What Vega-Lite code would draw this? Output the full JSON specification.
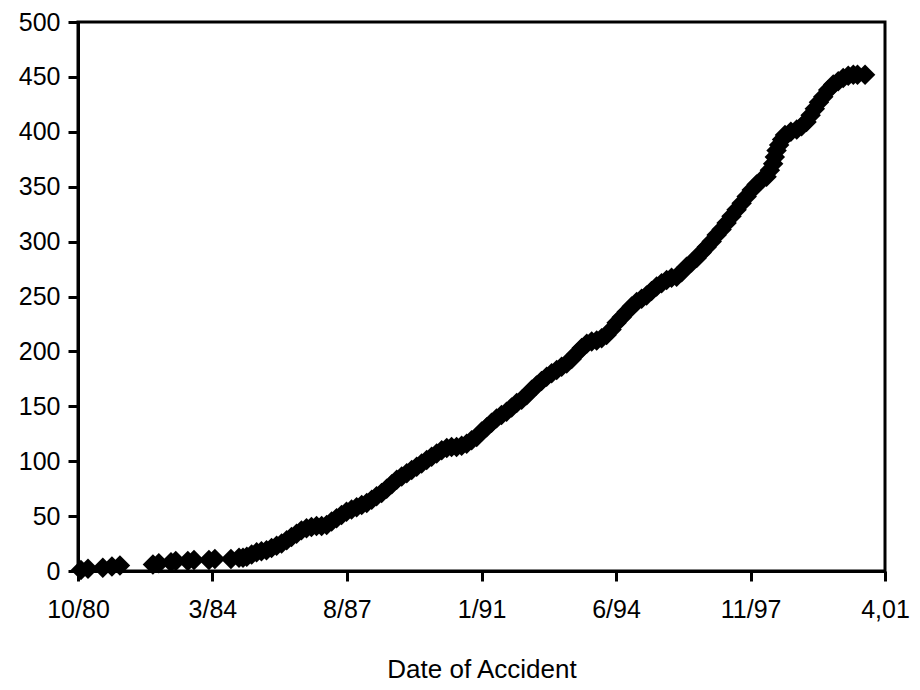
{
  "$schema": "https://vega.github.io/schema/vega-lite/v6.json",
  "width": 807,
  "height": 549,
  "autosize": {"type": "none"},
  "padding": {"left": 78, "top": 22, "right": 35, "bottom": 119},
  "background": "white",
  "config": {
    "view": {"stroke": "black", "strokeWidth": 3},
    "font": "Liberation Sans",
    "axis": {
      "grid": false,
      "domainColor": "black",
      "domainWidth": 3,
      "tickColor": "black",
      "tickWidth": 3,
      "tickSize": 10,
      "labelFont": "Liberation Sans",
      "labelFontSize": 25,
      "labelColor": "black",
      "labelOverlap": false,
      "labelFlush": false,
      "titleFont": "Liberation Sans",
      "titleFontSize": 26,
      "titleFontWeight": "normal",
      "titleColor": "black"
    }
  },
  "data": {
    "values": [
      {"date": "1980-10-28", "count": 1},
      {"date": "1981-01-02", "count": 2},
      {"date": "1981-05-19", "count": 3},
      {"date": "1981-08-12", "count": 4},
      {"date": "1981-10-25", "count": 5},
      {"date": "1982-08-27", "count": 6},
      {"date": "1982-10-21", "count": 7},
      {"date": "1983-02-11", "count": 8},
      {"date": "1983-03-27", "count": 9},
      {"date": "1983-07-17", "count": 9},
      {"date": "1983-09-12", "count": 10},
      {"date": "1984-01-29", "count": 10},
      {"date": "1984-03-24", "count": 11},
      {"date": "1984-08-20", "count": 11},
      {"date": "1984-11-03", "count": 12},
      {"date": "1984-12-10", "count": 12},
      {"date": "1985-01-14", "count": 13},
      {"date": "1985-02-28", "count": 15},
      {"date": "1985-04-15", "count": 17},
      {"date": "1985-05-30", "count": 18},
      {"date": "1985-07-16", "count": 19},
      {"date": "1985-09-01", "count": 21},
      {"date": "1985-10-18", "count": 23},
      {"date": "1985-12-03", "count": 25},
      {"date": "1986-01-19", "count": 28},
      {"date": "1986-03-05", "count": 31},
      {"date": "1986-04-21", "count": 34},
      {"date": "1986-06-05", "count": 37},
      {"date": "1986-07-22", "count": 39},
      {"date": "1986-09-06", "count": 40},
      {"date": "1986-10-23", "count": 41},
      {"date": "1986-12-09", "count": 41},
      {"date": "1987-01-25", "count": 42},
      {"date": "1987-03-12", "count": 45},
      {"date": "1987-04-27", "count": 48},
      {"date": "1987-06-12", "count": 51},
      {"date": "1987-07-28", "count": 54},
      {"date": "1987-09-13", "count": 56},
      {"date": "1987-10-30", "count": 58},
      {"date": "1987-12-16", "count": 60},
      {"date": "1988-02-01", "count": 62},
      {"date": "1988-03-18", "count": 65},
      {"date": "1988-05-02", "count": 68},
      {"date": "1988-06-18", "count": 71},
      {"date": "1988-08-04", "count": 75},
      {"date": "1988-09-20", "count": 79},
      {"date": "1988-11-05", "count": 83},
      {"date": "1988-12-21", "count": 86},
      {"date": "1989-02-06", "count": 89},
      {"date": "1989-03-24", "count": 92},
      {"date": "1989-05-09", "count": 95},
      {"date": "1989-06-24", "count": 98},
      {"date": "1989-08-10", "count": 101},
      {"date": "1989-09-25", "count": 104},
      {"date": "1989-11-11", "count": 107},
      {"date": "1989-12-27", "count": 110},
      {"date": "1990-02-12", "count": 112},
      {"date": "1990-03-29", "count": 113},
      {"date": "1990-05-14", "count": 113},
      {"date": "1990-06-30", "count": 114},
      {"date": "1990-08-16", "count": 116},
      {"date": "1990-10-01", "count": 119},
      {"date": "1990-11-17", "count": 122},
      {"date": "1991-01-02", "count": 127},
      {"date": "1991-02-18", "count": 131},
      {"date": "1991-04-04", "count": 135},
      {"date": "1991-05-20", "count": 139},
      {"date": "1991-07-05", "count": 142},
      {"date": "1991-08-21", "count": 145},
      {"date": "1991-10-07", "count": 149},
      {"date": "1991-11-23", "count": 153},
      {"date": "1992-01-08", "count": 156},
      {"date": "1992-02-24", "count": 160},
      {"date": "1992-04-10", "count": 165},
      {"date": "1992-05-25", "count": 169},
      {"date": "1992-07-10", "count": 173},
      {"date": "1992-08-27", "count": 177},
      {"date": "1992-10-12", "count": 180},
      {"date": "1992-11-28", "count": 183},
      {"date": "1993-01-13", "count": 186},
      {"date": "1993-03-01", "count": 189},
      {"date": "1993-04-16", "count": 193},
      {"date": "1993-06-01", "count": 198},
      {"date": "1993-07-18", "count": 203},
      {"date": "1993-09-03", "count": 207},
      {"date": "1993-10-19", "count": 209},
      {"date": "1993-12-04", "count": 210},
      {"date": "1994-01-19", "count": 212},
      {"date": "1994-03-06", "count": 215},
      {"date": "1994-04-21", "count": 220},
      {"date": "1994-06-07", "count": 226},
      {"date": "1994-07-24", "count": 231},
      {"date": "1994-09-09", "count": 236},
      {"date": "1994-10-25", "count": 241},
      {"date": "1994-12-10", "count": 245},
      {"date": "1995-01-25", "count": 248},
      {"date": "1995-03-12", "count": 251},
      {"date": "1995-04-27", "count": 255},
      {"date": "1995-06-13", "count": 259},
      {"date": "1995-07-29", "count": 262},
      {"date": "1995-09-14", "count": 265},
      {"date": "1995-10-30", "count": 267},
      {"date": "1995-12-16", "count": 268},
      {"date": "1996-01-31", "count": 272},
      {"date": "1996-03-17", "count": 277},
      {"date": "1996-05-03", "count": 281},
      {"date": "1996-06-19", "count": 285},
      {"date": "1996-08-04", "count": 290},
      {"date": "1996-09-20", "count": 295},
      {"date": "1996-11-05", "count": 300},
      {"date": "1996-12-21", "count": 306},
      {"date": "1997-02-05", "count": 311},
      {"date": "1997-03-23", "count": 317},
      {"date": "1997-05-08", "count": 323},
      {"date": "1997-06-24", "count": 329},
      {"date": "1997-08-10", "count": 335},
      {"date": "1997-09-26", "count": 341},
      {"date": "1997-11-11", "count": 347},
      {"date": "1997-12-27", "count": 352},
      {"date": "1998-02-11", "count": 356},
      {"date": "1998-03-29", "count": 359},
      {"date": "1998-04-29", "count": 365},
      {"date": "1998-05-29", "count": 371},
      {"date": "1998-06-14", "count": 377},
      {"date": "1998-06-30", "count": 383},
      {"date": "1998-07-24", "count": 388},
      {"date": "1998-08-20", "count": 393},
      {"date": "1998-09-16", "count": 397},
      {"date": "1998-11-10", "count": 400},
      {"date": "1999-01-03", "count": 402},
      {"date": "1999-02-17", "count": 405},
      {"date": "1999-04-04", "count": 409},
      {"date": "1999-05-12", "count": 415},
      {"date": "1999-06-20", "count": 421},
      {"date": "1999-07-28", "count": 427},
      {"date": "1999-09-06", "count": 432},
      {"date": "1999-10-22", "count": 438},
      {"date": "1999-12-08", "count": 443},
      {"date": "2000-01-23", "count": 446},
      {"date": "2000-03-09", "count": 449},
      {"date": "2000-04-25", "count": 451},
      {"date": "2000-06-11", "count": 452},
      {"date": "2000-07-20", "count": 452},
      {"date": "2000-09-28", "count": 452}
    ]
  },
  "mark": {"type": "point", "shape": "diamond", "filled": true, "color": "black", "opacity": 1, "size": 420},
  "encoding": {
    "x": {
      "field": "date",
      "type": "temporal",
      "scale": {
        "type": "utc",
        "domain": [
          {"year": 1980, "month": 10, "date": 1, "utc": true},
          {"year": 2001, "month": 4, "date": 1, "utc": true}
        ]
      },
      "axis": {
        "title": "Date of Accident",
        "titlePadding": 34,
        "labelPadding": 16,
        "values": [
          {"year": 1980, "month": 10, "date": 1, "utc": true},
          {"year": 1984, "month": 3, "date": 1, "utc": true},
          {"year": 1987, "month": 8, "date": 1, "utc": true},
          {"year": 1991, "month": 1, "date": 1, "utc": true},
          {"year": 1994, "month": 6, "date": 1, "utc": true},
          {"year": 1997, "month": 11, "date": 1, "utc": true},
          {"year": 2001, "month": 4, "date": 1, "utc": true}
        ],
        "labelExpr": "utcFormat(datum.value, '%-m/%y') == '4/01' ? '4,01' : utcFormat(datum.value, '%-m/%y')"
      }
    },
    "y": {
      "field": "count",
      "type": "quantitative",
      "scale": {"domain": [0, 500]},
      "axis": {
        "title": null,
        "labelPadding": 8,
        "values": [0, 50, 100, 150, 200, 250, 300, 350, 400, 450, 500]
      }
    }
  }
}
